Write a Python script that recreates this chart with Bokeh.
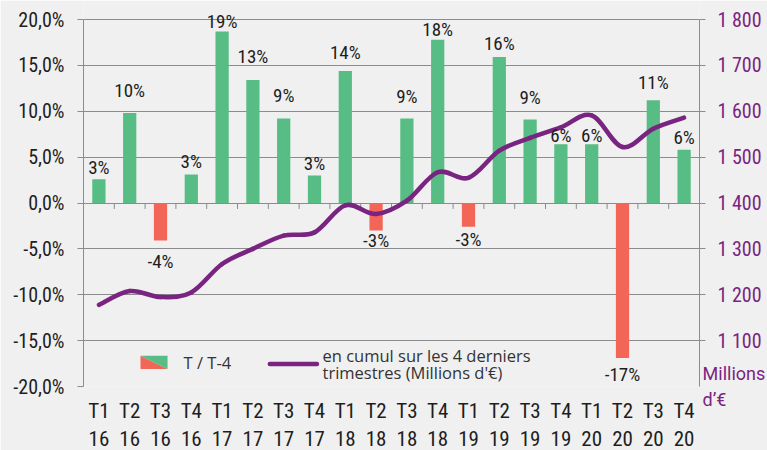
from bokeh.plotting import figure
from bokeh.models import Range1d, LinearAxis, FixedTicker, Label, ColumnDataSource, PolyAnnotation
from bokeh.core.properties import value
from bokeh.embed import file_html
from bokeh.resources import INLINE

# ---------------- data ----------------
quarters = ["T1 16", "T2 16", "T3 16", "T4 16", "T1 17", "T2 17", "T3 17", "T4 17",
            "T1 18", "T2 18", "T3 18", "T4 18", "T1 19", "T2 19", "T3 19", "T4 19",
            "T1 20", "T2 20", "T3 20", "T4 20"]
growth = [2.6, 9.8, -4.1, 3.1, 18.7, 13.4, 9.2, 3.0,
          14.4, -3.0, 9.2, 17.8, -2.6, 15.9, 9.1, 6.4,
          6.4, -16.9, 11.2, 5.8]
cumul = [1178, 1208, 1195, 1205, 1267, 1300, 1329, 1336,
         1395, 1376, 1405, 1467, 1455, 1514, 1542, 1565,
         1591, 1522, 1562, 1586]
left_ticks = [-20, -15, -10, -5, 0, 5, 10, 15, 20]
left_tick_labels = ["-20,0%", "-15,0%", "-10,0%", "-5,0%", "0,0%", "5,0%", "10,0%", "15,0%", "20,0%"]
right_ticks = [1100, 1200, 1300, 1400, 1500, 1600, 1700, 1800]
right_tick_labels = ["1 100", "1 200", "1 300", "1 400", "1 500", "1 600", "1 700", "1 800"]
legend_bar = "T / T-4"
legend_line = ["en cumul sur les 4 derniers", "trimestres (Millions d'€)"]
right_unit = "Millions\nd’€"
# pixel gap between each data label and its bar end (layout tweak)
label_gap = [5, 16, 15, 6, 3, 17, 16, 5, 11, 4, 15, 3, 7, 7, 15, 2, 2, 10, 11, 5]

GREEN = "#57BD84"
RED = "#F36657"
PURPLE = "#7A2481"
GRID = "#8C8C8C"
BG = "#F0F0F0"
TXT = "#1E1E1E"
NARROW = "Roboto Condensed, Liberation Sans Narrow, Roboto"

n = len(quarters)
idx = list(range(n))

# frame extends 16px above the 20% line so the top data label is not clipped
PX_PER_PCT = 367 / 40.0
Y_TOP = 20 + 16 / PX_PER_PCT
M_TOP = 1800 + 16 / PX_PER_PCT * 20

p = figure(frame_width=616, frame_height=383, x_range=Range1d(-0.5, n - 0.5), y_range=Range1d(-20, Y_TOP),
           output_backend="svg", toolbar_location=None,
           min_border_left=83, min_border_right=68, min_border_top=3, min_border_bottom=64,
           background_fill_color=BG, border_fill_color=BG, outline_line_color=None)
p.extra_y_ranges = {"m": Range1d(1000, M_TOP)}

# grid
p.xgrid.visible = False
p.ygrid.ticker = FixedTicker(ticks=left_ticks)
p.ygrid.grid_line_color = GRID
p.ygrid.grid_line_width = 1

# left axis
ya = p.yaxis[0]
ya.ticker = FixedTicker(ticks=left_ticks)
ya.bounds = (-20, 20)
ya.major_label_overrides = {t: l for t, l in zip(left_ticks, left_tick_labels)}
ya.axis_line_color = GRID
ya.major_tick_line_color = GRID
ya.major_tick_out = 6
ya.major_tick_in = 0
ya.minor_tick_line_color = None
ya.major_label_standoff = 13
ya.major_label_text_font = NARROW
ya.major_label_text_font_size = "20px"
ya.major_label_text_color = TXT

# bottom axis
xa = p.xaxis[0]
xa.ticker = FixedTicker(ticks=idx)
xa.major_label_overrides = {i: q.replace(" ", "\n") for i, q in zip(idx, quarters)}
xa.axis_line_color = None
xa.major_tick_line_color = None
xa.minor_tick_line_color = None
xa.major_tick_out = 0
xa.major_label_standoff = 12
xa.major_label_text_font = NARROW
xa.major_label_text_font_size = "21px"
xa.major_label_text_color = TXT
xa.major_label_text_line_height = 1.18

# right axis
ra = LinearAxis(y_range_name="m", ticker=FixedTicker(ticks=right_ticks), bounds=(1000, 1800),
                major_label_overrides={t: l for t, l in zip(right_ticks, right_tick_labels)})
ra.axis_line_color = GRID
ra.major_tick_line_color = GRID
ra.major_tick_out = 6
ra.major_tick_in = 0
ra.minor_tick_line_color = None
ra.major_label_standoff = 12
ra.major_label_text_font = NARROW
ra.major_label_text_font_size = "20px"
ra.major_label_text_color = PURPLE
ra.axis_label = right_unit
ra.axis_label_orientation = "horizontal"
ra.axis_label_standoff = -62
ra.axis_label_text_font = "Roboto"
ra.axis_label_text_font_style = "normal"
ra.axis_label_text_font_size = "18px"
ra.axis_label_text_color = PURPLE
ra.axis_label_text_align = "center"
if "axis_label_align" in ra.properties():
    ra.axis_label_align = "start"
p.add_layout(ra, "right")

# category separator ticks on zero line
p.segment(x0=[i + 0.5 for i in idx[:-1]], y0=[0] * (n - 1),
          x1=[i + 0.5 for i in idx[:-1]], y1=[-0.65] * (n - 1),
          line_color=GRID, line_width=1)

# bars
colors = [GREEN if v >= 0 else RED for v in growth]
labels = ["%d%%" % round(v) for v in growth]
yoff = [-g - 7 if v >= 0 else g + 6 for v, g in zip(growth, label_gap)]
src = ColumnDataSource(dict(x=idx, top=growth, color=colors, label=labels, yoff=yoff))
p.vbar(x="x", top="top", bottom=0, width=0.43, source=src, fill_color="color", line_color=None)

# smoothed line (cubic Bezier segments through the data points)
bx0, by0, bx1, by1, cx0, cy0, cx1, cy1 = [], [], [], [], [], [], [], []
for i in range(n - 1):
    xm, ym = (idx[i - 1], cumul[i - 1]) if i > 0 else (idx[i], cumul[i])
    xp, yp = (idx[i + 2], cumul[i + 2]) if i + 2 < n else (idx[i + 1], cumul[i + 1])
    bx0.append(idx[i]); by0.append(cumul[i])
    bx1.append(idx[i + 1]); by1.append(cumul[i + 1])
    cx0.append(idx[i] + (idx[i + 1] - xm) / 6); cy0.append(cumul[i] + (cumul[i + 1] - ym) / 6)
    cx1.append(idx[i + 1] - (xp - idx[i]) / 6); cy1.append(cumul[i + 1] - (yp - cumul[i]) / 6)
p.bezier(x0=bx0, y0=by0, x1=bx1, y1=by1, cx0=cx0, cy0=cy0, cx1=cx1, cy1=cy1,
         y_range_name="m", line_color=PURPLE, line_width=4.5, line_cap="round")

# data labels
p.text(x="x", y="top", text="label", y_offset="yoff", source=src,
       text_align="center", text_baseline="alphabetic",
       text_font=value(NARROW), text_font_size="19px", text_color=TXT)

# legend (drawn manually)
p.add_layout(PolyAnnotation(xs=[1.35, 1.35, 2.23], ys=[-16.66, -18.08, -18.08],
                            fill_color=RED, fill_alpha=1, line_color=None))
p.add_layout(PolyAnnotation(xs=[1.35, 2.23, 2.23], ys=[-16.66, -16.66, -18.08],
                            fill_color=GREEN, fill_alpha=1, line_color=None))
p.add_layout(Label(x=2.75, y=-17.42, text=legend_bar, text_baseline="middle",
                   text_font="Open Sans", text_font_size="16.5px", text_color="#333333"))
p.segment(x0=[5.55], y0=[-17.55], x1=[7.08], y1=[-17.55], line_color=PURPLE, line_width=4.5,
          line_cap="round")
p.add_layout(Label(x=7.26, y=-16.66, text=legend_line[0], text_baseline="middle",
                   text_font="Open Sans", text_font_size="16.5px", text_color="#333333"))
p.add_layout(Label(x=7.26, y=-18.51, text=legend_line[1], text_baseline="middle",
                   text_font="Open Sans", text_font_size="16.5px", text_color="#333333"))

open("out.html", "w").write(file_html(p, INLINE))
